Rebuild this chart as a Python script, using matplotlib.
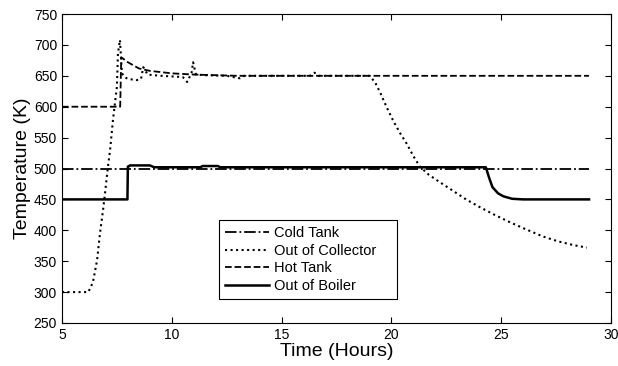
import matplotlib
matplotlib.use("Agg")
import matplotlib.pyplot as plt

plt.rcParams['font.family'] = ['Liberation Sans', 'DejaVu Sans']

# values
t_cold = [5, 29]
T_cold = [500, 500]

t_col = [5, 6.2, 6.41, 6.6, 6.73, 6.87, 6.96, 7.09, 7.19, 7.32, 7.5, 7.55, 7.64,
         7.73, 7.85, 8.0, 8.4, 8.6, 8.7, 8.9, 9.5, 10.5, 10.7, 10.9, 10.97, 11.1,
         11.5, 12.5, 13.1, 13.3, 15, 16.3, 16.5, 16.7, 18, 19.0, 19.25, 19.5,
         19.8, 20.1, 20.4, 20.7, 21.0, 21.3, 21.7, 22.2, 22.8, 23.4, 24.0, 24.7,
         25.4, 26.1, 26.9, 27.6, 28.3, 28.9]
T_col = [300, 300, 316, 352, 395, 433, 460, 502, 530, 578, 632, 687, 708,
         654, 648, 645, 643, 645, 664, 652, 650, 648, 640, 655, 672, 652,
         651, 650, 646, 650, 650, 650, 655, 650, 650, 650, 640, 622,
         598, 576, 557, 540, 520, 503, 490, 478, 464, 450, 438, 425,
         413, 402, 390, 382, 376, 372]

t_hot = [5, 7.65, 7.7, 8.0, 8.5, 9, 10, 11, 13, 29]
T_hot = [600, 600, 680, 672, 662, 658, 654, 652, 650, 650]

t_boil = [5, 7.98, 8.0, 8.1, 9.0, 9.2, 11.3, 11.4, 12.1, 12.2, 24.3, 24.45,
          24.6, 24.85, 25.1, 25.5, 26, 29]
T_boil = [450, 450, 503, 505, 505, 502, 502, 504, 504, 502, 502, 485,
          470, 460, 455, 451, 450, 450]

fig = plt.figure(figsize=(6.18, 3.66), dpi=100)
ax = fig.add_axes([0.1003, 0.1175, 0.8884, 0.8442])

ax.plot(t_cold, T_cold, color='black', linestyle='-.', linewidth=1.3, label='Cold Tank')
ax.plot(t_col, T_col, color='black', linestyle=':', linewidth=1.5, label='Out of Collector')
ax.plot(t_hot, T_hot, color='black', linestyle='--', linewidth=1.3, label='Hot Tank')
ax.plot(t_boil, T_boil, color='black', linestyle='-', linewidth=1.8, label='Out of Boiler')

ax.set_xlim(5, 30)
ax.set_ylim(250, 750)
ax.set_xticks([5, 10, 15, 20, 25, 30])
ax.set_yticks(range(250, 751, 50))
ax.tick_params(direction='in', top=True, right=True, labelsize=10, length=4)
ax.set_xlabel('Time (Hours)', fontsize=14, labelpad=1)
ax.set_ylabel('Temperature (K)', fontsize=14, labelpad=2)

leg = ax.legend(loc='lower left', bbox_to_anchor=(0.286, 0.078, 0.324, 0.304),
                mode='expand', fontsize=10.5, handlelength=3, fancybox=False,
                framealpha=1, edgecolor='black', borderaxespad=0,
                labelspacing=0.25, handletextpad=0.4)
leg.get_frame().set_linewidth(0.8)

fig.savefig('out.png', dpi=100)
